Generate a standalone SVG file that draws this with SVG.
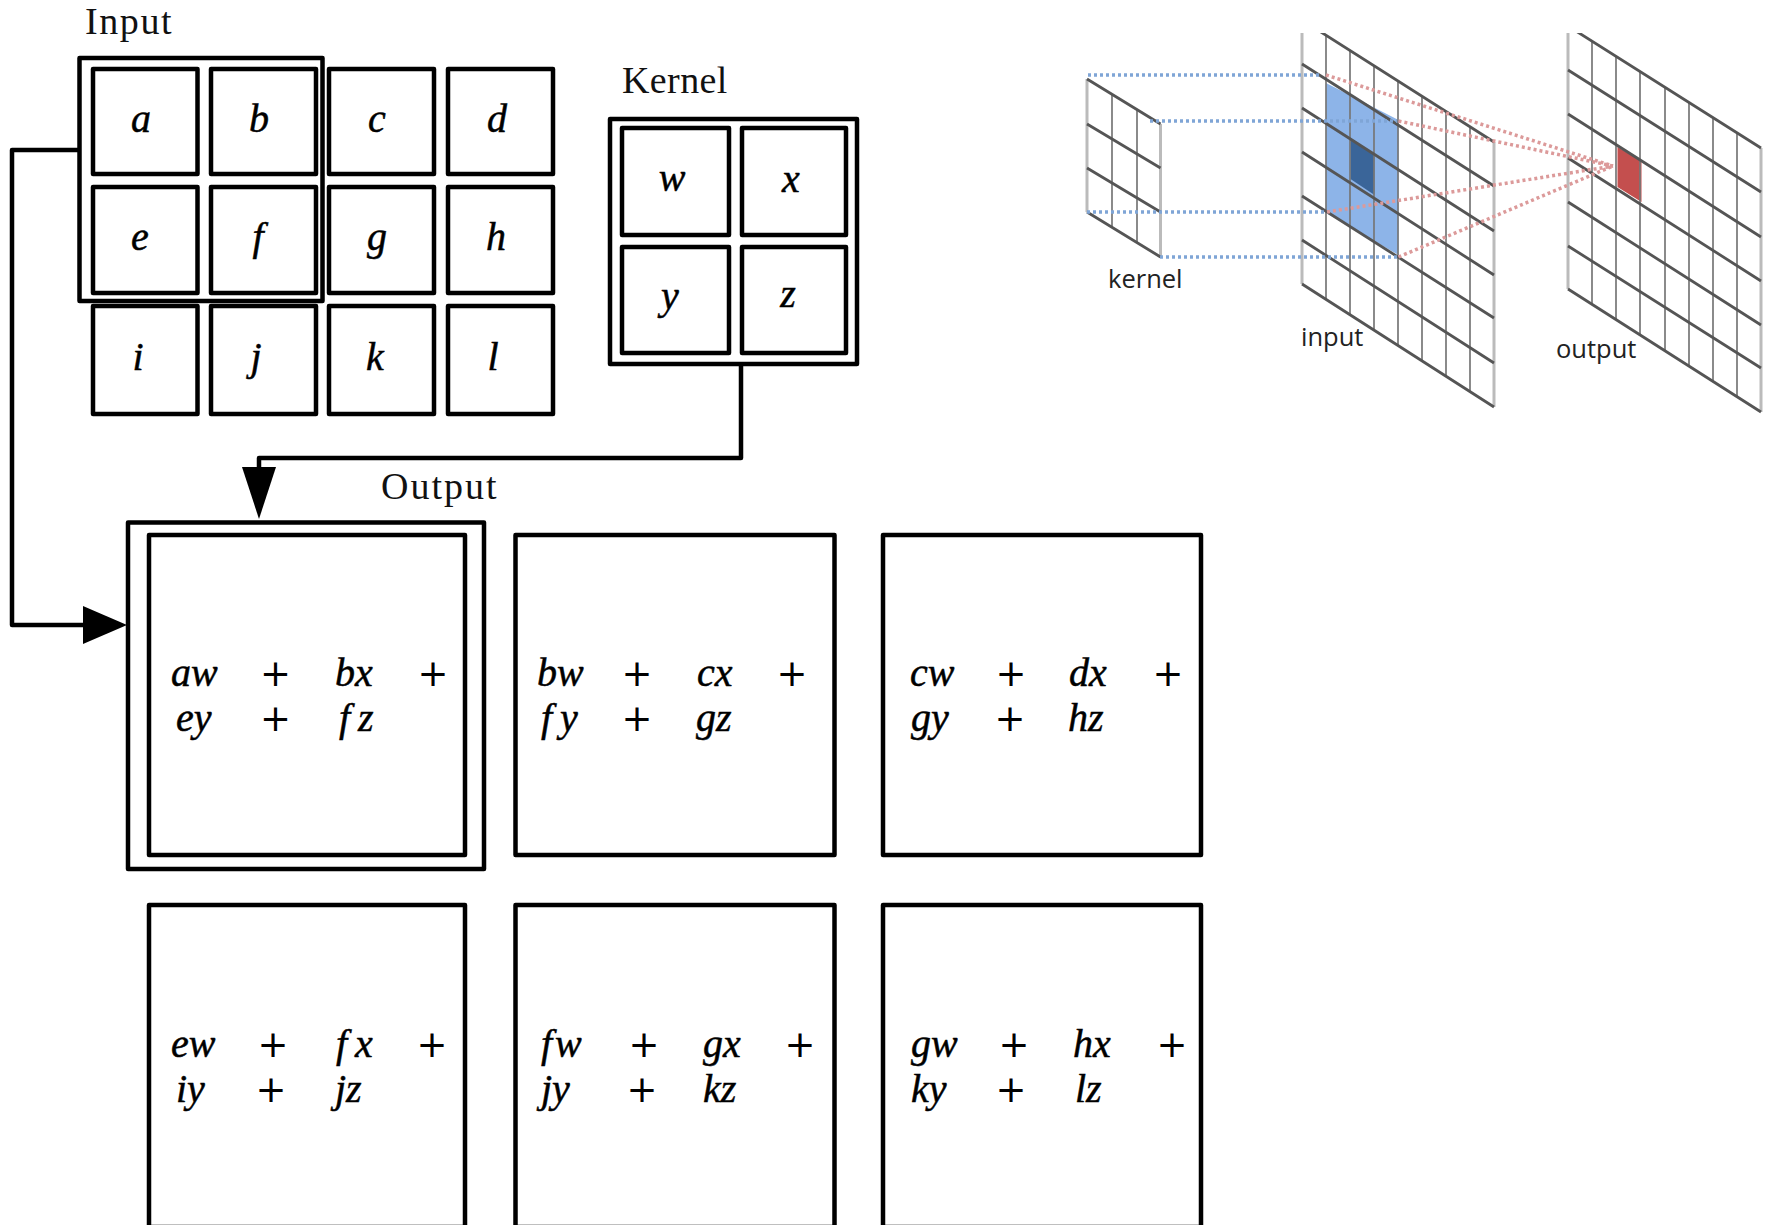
<svg xmlns="http://www.w3.org/2000/svg" width="1769" height="1225" viewBox="0 0 1769 1225">
<style>
.box{fill:none;stroke:#000;stroke-width:4.5;stroke-linejoin:round}
.lbl{font-family:"Liberation Serif","Times New Roman",serif;font-size:38px;fill:#111}
.m{font-family:"Liberation Serif","Times New Roman",serif;font-style:italic;font-size:40px;fill:#000;stroke:#000;stroke-width:.5;font-variant-ligatures:none}
.f{letter-spacing:8px}
.p{font-family:"DejaVu Sans",sans-serif;font-size:37px;fill:#000;text-anchor:middle}
.c{text-anchor:middle}
.san{font-family:"Open Sans","Noto Sans",sans-serif;font-size:25.500px;fill:#222}
.conn{fill:none;stroke:#000;stroke-width:4.5;stroke-linejoin:round}
.sl{stroke:#555;stroke-width:2.8;fill:none}
.v{stroke:#777;stroke-width:1.7;fill:none}
.e{stroke:#bbb;stroke-width:3;fill:none}
.db{stroke:#7fa5d6;stroke-width:3.500;stroke-dasharray:3 3;fill:none}
.dr{stroke:#dc9a9a;stroke-width:3.500;stroke-dasharray:3 3;fill:none}
</style>
<defs>
<clipPath id="top"><rect x="1080" y="33" width="689" height="400"/></clipPath>
</defs>

<text class="lbl" x="85" y="34" style="letter-spacing:1.6px">Input</text>
<text class="lbl" x="622" y="93" style="letter-spacing:.4px">Kernel</text>
<text class="lbl" x="381" y="499" style="letter-spacing:2px">Output</text>

<g id="input-frame"><rect class="box" x="79.500" y="58" width="243" height="243"/></g>
<g id="cell-a"><rect class="box" x="93" y="69" width="104.500" height="105"/><text class="m c" x="141" y="132">a</text></g>
<g id="cell-b"><rect class="box" x="211" y="69" width="105" height="105"/><text class="m c" x="259" y="132">b</text></g>
<g id="cell-c"><rect class="box" x="329" y="69" width="105" height="105"/><text class="m c" x="377" y="132">c</text></g>
<g id="cell-d"><rect class="box" x="448" y="69" width="105" height="105"/><text class="m c" x="497" y="132">d</text></g>
<g id="cell-e"><rect class="box" x="93" y="187" width="104.500" height="106"/><text class="m c" x="140" y="250">e</text></g>
<g id="cell-f"><rect class="box" x="211" y="187" width="105" height="106"/><text class="m c" x="258" y="250">f</text></g>
<g id="cell-g"><rect class="box" x="329" y="187" width="105" height="106"/><text class="m c" x="377" y="250">g</text></g>
<g id="cell-h"><rect class="box" x="448" y="187" width="105" height="106"/><text class="m c" x="496" y="250">h</text></g>
<g id="cell-i"><rect class="box" x="93" y="306" width="104.500" height="108"/><text class="m c" x="138" y="370">i</text></g>
<g id="cell-j"><rect class="box" x="211" y="306" width="105" height="108"/><text class="m c" x="256" y="370">j</text></g>
<g id="cell-k"><rect class="box" x="329" y="306" width="105" height="108"/><text class="m c" x="375" y="370">k</text></g>
<g id="cell-l"><rect class="box" x="448" y="306" width="105" height="108"/><text class="m c" x="493" y="370">l</text></g>

<g id="kernel-frame"><rect class="box" x="610" y="119" width="247" height="245"/></g>
<g id="cell-w"><rect class="box" x="622" y="128" width="107" height="107"/><text class="m c" x="672" y="191">w</text></g>
<g id="cell-x"><rect class="box" x="742" y="128" width="104" height="107"/><text class="m c" x="791" y="192">x</text></g>
<g id="cell-y"><rect class="box" x="622" y="247" width="107" height="106"/><text class="m c" x="670" y="309">y</text></g>
<g id="cell-z"><rect class="box" x="742" y="247" width="104" height="106"/><text class="m c" x="788" y="307">z</text></g>

<g id="connectors">
<path class="conn" d="M79 150H12V625H83"/>
<path d="M83 606L127 625L83 644Z" fill="#000"/>
<path class="conn" d="M741 364V458H259V470"/>
<path d="M242 467L259 519L276 467Z" fill="#000"/>
</g>

<g id="output-frame"><rect class="box" x="128" y="522.500" width="356" height="346.500"/></g>
<g id="out-1"><rect class="box" x="149" y="535" width="316" height="320"/>
<text class="m" x="171" y="686">aw</text><text class="p" x="275.500" y="686">+</text><text class="m" x="335" y="686">bx</text><text class="p" x="433" y="686">+</text>
<text class="m" x="176" y="731">ey</text><text class="p" x="275.500" y="731">+</text><text class="m f" x="339" y="731">fz</text></g>
<g id="out-2"><rect class="box" x="515.500" y="535" width="319" height="320"/>
<text class="m" x="537" y="686">bw</text><text class="p" x="637" y="686">+</text><text class="m" x="697" y="686">cx</text><text class="p" x="792" y="686">+</text>
<text class="m f" x="541" y="731">fy</text><text class="p" x="637" y="731">+</text><text class="m" x="696" y="731">gz</text></g>
<g id="out-3"><rect class="box" x="883" y="535" width="318" height="320"/>
<text class="m" x="910" y="686">cw</text><text class="p" x="1011" y="686">+</text><text class="m" x="1069" y="686">dx</text><text class="p" x="1168" y="686">+</text>
<text class="m" x="911" y="731">gy</text><text class="p" x="1010" y="731">+</text><text class="m" x="1068" y="731">hz</text></g>
<g id="out-4"><rect class="box" x="149" y="905" width="316" height="322"/>
<text class="m" x="171" y="1057">ew</text><text class="p" x="273" y="1057">+</text><text class="m f" x="336" y="1057">fx</text><text class="p" x="432" y="1057">+</text>
<text class="m" x="176" y="1102">iy</text><text class="p" x="271" y="1102">+</text><text class="m" x="335" y="1102">jz</text></g>
<g id="out-5"><rect class="box" x="515.500" y="905" width="319" height="322"/>
<text class="m f" x="541" y="1057" style="letter-spacing:3px">fw</text><text class="p" x="644" y="1057">+</text><text class="m" x="703" y="1057">gx</text><text class="p" x="800" y="1057">+</text>
<text class="m" x="541" y="1102">jy</text><text class="p" x="642" y="1102">+</text><text class="m" x="703" y="1102">kz</text></g>
<g id="out-6"><rect class="box" x="883" y="905" width="318" height="322"/>
<text class="m" x="911" y="1057">gw</text><text class="p" x="1014" y="1057">+</text><text class="m" x="1073" y="1057">hx</text><text class="p" x="1172" y="1057">+</text>
<text class="m" x="911" y="1102">ky</text><text class="p" x="1011" y="1102">+</text><text class="m" x="1075" y="1102">lz</text></g>

<g id="kernel-grid">
<path class="e" d="M1087 79V212M1160.500 124V257"/>
<path class="v" d="M1112 95V228M1137 110V243"/>
<path class="sl" d="M1087 79L1160.500 124M1087 124L1160.500 168M1087 168L1160.500 212M1087 212L1160.500 257"/>
<text class="san" x="1108" y="288">kernel</text>
</g>

<g id="input-grid" clip-path="url(#top)">
<path d="M1326 83L1398.500 120V255L1326 213Z" fill="#8db4e8"/>
<path d="M1350.500 140L1374.500 155V195L1350.500 179Z" fill="#3a6599"/>
<path class="e" d="M1302 20V284M1494 142V407"/>
<path class="v" d="M1326 35V299M1350 50V314M1374 66V330M1398 81V345M1422 96V360M1446 112V376M1470 127V391"/>
<path class="sl" d="M1302 20L1494 142M1302 64L1494 186M1302 108L1494 231M1302 152L1494 275M1302 196L1494 318M1302 240L1494 363M1302 284L1494 407"/>
</g>
<text class="san" x="1301" y="346">input</text>

<g id="output-grid" clip-path="url(#top)">
<path d="M1617.500 147L1641.500 161V202L1617.500 187Z" fill="#c44f4e"/>
<path class="e" d="M1568 26V289M1761 148V412"/>
<path class="v" d="M1592 41V304M1616 56V320M1640 72V335M1665 87V350M1689 102V366M1713 118V381M1737 133V396"/>
<path class="sl" d="M1568 26L1761 148M1568 70L1761 192M1568 114L1761 237M1568 158L1761 281M1568 202L1761 325M1568 246L1761 368M1568 289L1761 412"/>
</g>
<text class="san" x="1556" y="358">output</text>

<g id="projection">
<path class="db" d="M1088 75H1320M1150 121H1397M1087 212H1327M1160 257H1398"/>
<path class="dr" d="M1326 75L1613 166M1398.500 121L1613 166M1327 212L1613 166M1398.500 257L1613 166"/>
</g>
</svg>
